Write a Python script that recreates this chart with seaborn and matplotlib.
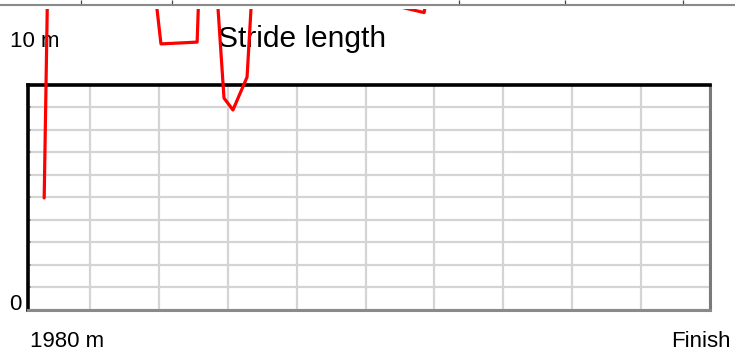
import matplotlib
matplotlib.use("Agg")
import numpy as np
import pandas as pd
import seaborn as sns
import matplotlib.pyplot as plt

# stride length trace over the last 20 m (values above the frame run off the top)
meters = [1980.67, 1980.85, 1983.45, 1984.06, 1985.11, 1985.34, 1985.89, 1986.15,
          1986.56, 1987.00, 1990.50, 1991.70, 1991.95, 1994.50, 1997.50, 2000.00]
stride = [4.97, 22.0, 20.0, 11.80, 11.88, 22.0, 9.40, 8.87,
          10.33, 22.0, 13.62, 13.19, 15.5, 16.0, 15.2, 15.8]

x_grid = [1982, 1984, 1986, 1988, 1990, 1992, 1994, 1996, 1998, 2000]
y_grid = list(range(0, 11))
# tick marks of the strip cut off at the very top of the image
strip_ticks = [81, 172, 459, 565, 683]

sns.set_style("white")
plt.rcParams['font.family'] = ['Liberation Sans', 'DejaVu Sans']
plt.rcParams['text.color'] = 'black'

W, H = 735, 352
fig = plt.figure(figsize=(W / 100, H / 100), dpi=100)

def box(x0, y0, x1, y1):
    # pixel box (top-left origin) -> figure fraction rect
    return [x0 / W, 1 - y1 / H, (x1 - x0) / W, (y1 - y0) / H]

# strip at top
top = fig.add_axes(box(0, 0, W, 4.5))
top.set_xlim(0, W)
top.set_ylim(0, 1)
top.set_yticks([])
top.set_xticks(strip_ticks)
top.set_xticklabels([])
top.tick_params(axis='x', direction='in', length=3.4, width=0.9, color='#444444', bottom=True)
for s in ['top', 'left', 'right']:
    top.spines[s].set_visible(False)
top.spines['bottom'].set_color('#8a8a8a')
top.spines['bottom'].set_linewidth(1.5)
top.patch.set_alpha(0)

# main framed panel
ax = fig.add_axes(box(28, 84.5, 710, 310))
ax.set_xlim(1980.2, 2000)
ax.set_ylim(0, 10)
ax.set_xticks(x_grid)
ax.set_yticks(y_grid)
ax.set_xticklabels([])
ax.set_yticklabels([])
ax.grid(True, color='#d4d4d4', linewidth=1.6)
ax.tick_params(axis='y', direction='in', length=2.5, width=1.2, color='#999999', left=True)
ax.tick_params(axis='x', length=0)
ax.spines['left'].set_color('black')
ax.spines['left'].set_linewidth(2.6)
ax.spines['top'].set_color('black')
ax.spines['top'].set_linewidth(2.6)
ax.spines['right'].set_color('#7a7a7a')
ax.spines['right'].set_linewidth(2.2)
ax.spines['bottom'].set_color('#8a8a8a')
ax.spines['bottom'].set_linewidth(2.2)

# overlay for the trace, clipped at the top of the image area
ov = fig.add_axes(box(28, 9, 710, 310), zorder=10)
df = pd.DataFrame({'meters': meters, 'stride': stride})
sns.lineplot(data=df, x='meters', y='stride', ax=ov, color='#ff0000',
             linewidth=2.3, sort=False, estimator=None)
ov.set_xlim(1980.2, 2000)
ov.set_ylim(0, 301 / 22.55)
ov.axis('off')
ov.patch.set_alpha(0)

def px(x, y):
    return x / W, 1 - y / H

fig.text(*px(10, 47), '10 m', fontsize=16, va='baseline', ha='left', color='black')
fig.text(*px(218, 47), 'Stride length', fontsize=21.5, va='baseline', ha='left', color='black')
fig.text(*px(9, 310), '0', fontsize=16, va='baseline', ha='left', color='black')
fig.text(*px(30, 347), '1980 m', fontsize=16, va='baseline', ha='left', color='black')
fig.text(*px(731, 347), 'Finish', fontsize=16, va='baseline', ha='right', color='black')

fig.savefig('out.png', dpi=100)
